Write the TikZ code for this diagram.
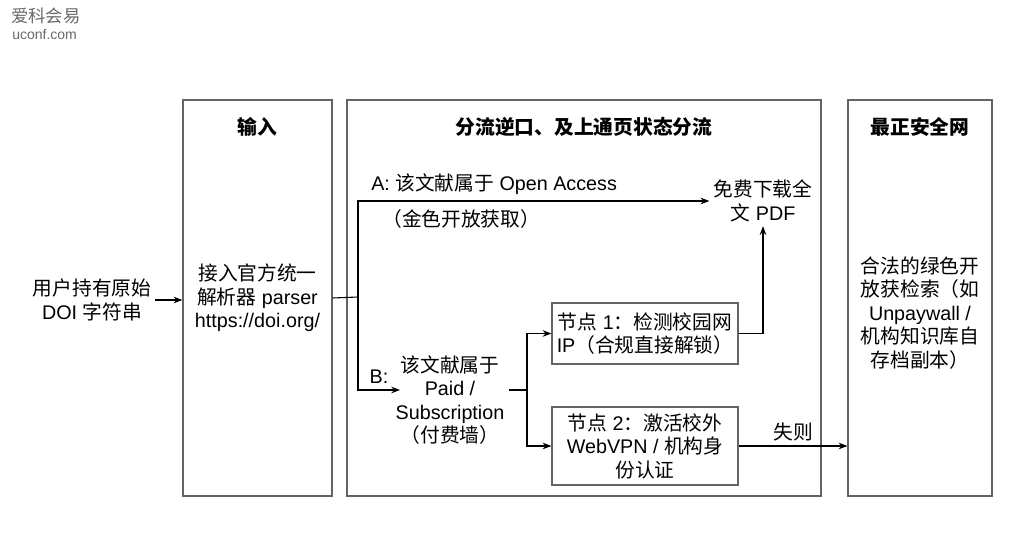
\documentclass[tikz,border=0pt]{standalone}
\usepackage{fontspec}
\setmainfont{Liberation Sans}
\newfontfamily\zhfont{Noto Sans CJK SC}
\newcommand{\zh}[1]{{\zhfont #1}}
\usetikzlibrary{positioning, arrows.meta}
\definecolor{lanegray}{RGB}{100,100,100}
\definecolor{markgray}{RGB}{105,105,105}
\tikzset{
lane/.style={
    draw=lanegray,
    line width=0.9pt,
    inner sep=0pt
},
lanetitle/.style={
    font=\fontsize{14.8}{17.6}\selectfont\bfseries
},
txt/.style={
    align=center,
    inner sep=3pt,
    font=\fontsize{14.8}{17.6}\selectfont
},
stepbox/.style={
    txt,
    draw=lanegray,
    line width=0.9pt,
    minimum width=139.5pt
}
}

\begin{document}
\begin{tikzpicture}[
    x=0.75pt, y=-0.75pt,
    >=Stealth
]
\useasboundingbox (0,0) rectangle (1016,542);

% WATERMARK
\node[anchor=west, inner sep=0pt, text=markgray, font=\fontsize{13}{15}\selectfont] (markcn) at (11,16) {\zh{爱科会易}};
\node[anchor=west, inner sep=0pt, text=markgray, font=\fontsize{10.5}{12}\selectfont] (markurl) at (12,35) {uconf.com};

% LANES
\node[lane, minimum width=111.75pt, minimum height=297pt] (inlane) at (257.5,298) {};
\node[lane, minimum width=355.5pt, minimum height=297pt] (flowlane) at (584,298) {};
\node[lane, minimum width=108pt, minimum height=297pt] (safelane) at (920,298) {};

\node[lanetitle] (intitle) at (257.5,127) {\zh{输入}};
\node[lanetitle] (flowtitle) at (584,127) {\zh{分流逆口、及上通页状态分流}};
\node[lanetitle] (safetitle) at (920,127) {\zh{最正安全网}};

% LEFT: INPUT
\node[txt] (doi) at (92,300) {\zh{用户持有原始}\\DOI \zh{字符串}};
\node[txt] (parser) at (257.5,298) {\zh{接入官方统一}\\\zh{解析器} parser\\https://doi.org/};

% CENTER: BRANCHES
\coordinate (split) at (358,297);
\node[txt] (pdf) at (763,201) {\zh{免费下载全}\\\zh{文} PDF};
\node[txt, anchor=west] (oalabel) at (367,184) {A: \zh{该文献属于} Open Access};
\node[txt, anchor=west] (oanote) at (378,219) {\zh{（金色开放获取）}};

\coordinate (bin) at (400,390);
\node[txt] (paid) at (450,400) {\zh{该文献属于}\\Paid /\\Subscription\\\zh{（付费墙）}};
\node[txt] (blabel) at (379,377) {B:};
\coordinate (fork) at (527,390);

\node[stepbox, minimum height=45.75pt] (campus) at (645,333.5) {\zh{节点} 1\zh{：检测校园网}\\IP\zh{（合规直接解锁）}};
\node[stepbox, minimum height=58.5pt] (vpn) at (645,446) {\zh{节点} 2\zh{：激活校外}\\WebVPN / \zh{机构身}\\\zh{份认证}};

% RIGHT: SAFETY NET
\node[txt] (green) at (920,313) {\zh{合法的绿色开}\\\zh{放获检索（如}\\Unpaywall /\\\zh{机构知识库自}\\\zh{存档副本）}};

% ARROWS
\draw[->, thick] (doi.east) -- (doi.east -| inlane.west);
\draw[thick] (parser.east -| inlane.east) -- (split);
\draw[->, thick] (split) |- (pdf.west);
\draw[->, thick] (split) |- (bin);
\draw[thick] (paid.east |- fork) -- (fork);
\draw[->, thick] (fork) |- (campus.west);
\draw[->, thick] (fork) |- (vpn.west);
\draw[->, thick] (campus.east) -| (pdf.south);
\draw[->, thick] (vpn.east) -- node[txt, above] (faillabel) {\zh{失则}} (vpn.east -| safelane.west);

\end{tikzpicture}
\end{document}
